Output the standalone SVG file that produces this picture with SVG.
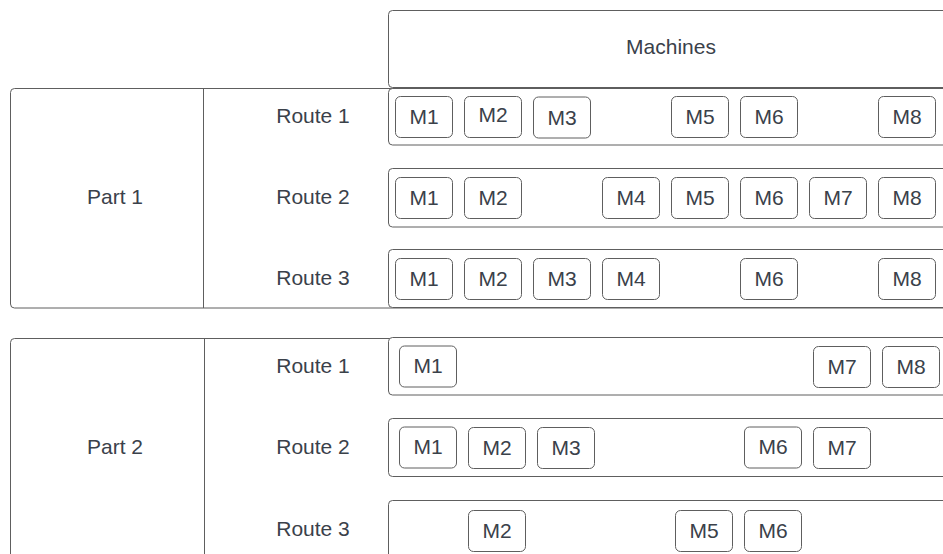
<svg xmlns="http://www.w3.org/2000/svg" width="943" height="554" viewBox="0 0 943 554">
<style>
.frame{fill:none;stroke:#5e5e5e;stroke-width:1}
.row{fill:#ffffff;stroke:#5e5e5e;stroke-width:1}
.m{fill:#ffffff;stroke:#5e5e5e;stroke-width:1}
.t{font-family:"Liberation Sans",Arial,sans-serif;font-size:21px;fill:#3a414a;text-anchor:middle}
</style>
<rect width="943" height="554" fill="#ffffff"/>
<g id="machines-header">
<rect class="row" x="388.5" y="10.5" width="600" height="77" rx="4"/>
<text class="t" x="671" y="53.5">Machines</text>
</g>
<g id="part1">
<rect class="frame" x="10.5" y="88.5" width="1000" height="219.5" rx="4"/>
<line class="frame" x1="203.5" y1="88.5" x2="203.5" y2="308"/>
<text class="t" x="115" y="203.5">Part 1</text>
<text class="t" x="313" y="122.5">Route 1</text>
<text class="t" x="313" y="203.5">Route 2</text>
<text class="t" x="313" y="284.5">Route 3</text>
</g>
<g id="p1r1">
<rect class="row" x="388.5" y="88.5" width="600" height="56.5" rx="4"/>
<rect class="m" x="395.5" y="96.5" width="57" height="41" rx="5"/><text class="t" x="424" y="124">M1</text>
<rect class="m" x="464.5" y="96.5" width="57" height="41" rx="5"/><text class="t" x="493" y="122">M2</text>
<rect class="m" x="533.5" y="97" width="57" height="41" rx="5"/><text class="t" x="562" y="125">M3</text>
<rect class="m" x="671.5" y="96.5" width="57" height="41" rx="5"/><text class="t" x="700" y="124">M5</text>
<rect class="m" x="740.5" y="96.5" width="57" height="41" rx="5"/><text class="t" x="769" y="124">M6</text>
<rect class="m" x="878.5" y="96.5" width="57" height="41" rx="5"/><text class="t" x="907" y="124">M8</text>
</g>
<g id="p1r2">
<rect class="row" x="388.5" y="168.5" width="600" height="58.5" rx="4"/>
<rect class="m" x="395.5" y="177.5" width="57" height="41" rx="5"/><text class="t" x="424" y="205">M1</text>
<rect class="m" x="464.5" y="177.5" width="57" height="41" rx="5"/><text class="t" x="493" y="205">M2</text>
<rect class="m" x="602.5" y="177.5" width="57" height="41" rx="5"/><text class="t" x="631" y="205">M4</text>
<rect class="m" x="671.5" y="177.5" width="57" height="41" rx="5"/><text class="t" x="700" y="205">M5</text>
<rect class="m" x="740.5" y="177.5" width="57" height="41" rx="5"/><text class="t" x="769" y="205">M6</text>
<rect class="m" x="809.5" y="177.5" width="57" height="41" rx="5"/><text class="t" x="838" y="205">M7</text>
<rect class="m" x="878.5" y="177.5" width="57" height="41" rx="5"/><text class="t" x="907" y="205">M8</text>
</g>
<g id="p1r3">
<rect class="row" x="388.5" y="249.5" width="600" height="58" rx="4"/>
<rect class="m" x="395.5" y="258.5" width="57" height="41" rx="5"/><text class="t" x="424" y="286">M1</text>
<rect class="m" x="464.5" y="258.5" width="57" height="41" rx="5"/><text class="t" x="493" y="286">M2</text>
<rect class="m" x="533.5" y="258.5" width="57" height="41" rx="5"/><text class="t" x="562" y="286">M3</text>
<rect class="m" x="602.5" y="258.5" width="57" height="41" rx="5"/><text class="t" x="631" y="286">M4</text>
<rect class="m" x="740.5" y="258.5" width="57" height="41" rx="5"/><text class="t" x="769" y="286">M6</text>
<rect class="m" x="878.5" y="258.5" width="57" height="41" rx="5"/><text class="t" x="907" y="286">M8</text>
</g>
<g id="part2">
<rect class="frame" x="10.5" y="338.5" width="1000" height="300" rx="4"/>
<line class="frame" x1="204.5" y1="338.5" x2="204.5" y2="554"/>
<text class="t" x="115" y="453.5">Part 2</text>
<text class="t" x="313" y="372.5">Route 1</text>
<text class="t" x="313" y="453.5">Route 2</text>
<text class="t" x="313" y="535.5">Route 3</text>
</g>
<g id="p2r1">
<rect class="row" x="388.5" y="337.5" width="600" height="57.5" rx="4"/>
<rect class="m" x="399.5" y="346" width="57" height="41" rx="5"/><text class="t" x="428" y="373">M1</text>
<rect class="m" x="813.5" y="346.5" width="57" height="41" rx="5"/><text class="t" x="842" y="374">M7</text>
<rect class="m" x="882.5" y="346.5" width="57" height="41" rx="5"/><text class="t" x="911" y="374">M8</text>
</g>
<g id="p2r2">
<rect class="row" x="388.5" y="418.5" width="600" height="58" rx="4"/>
<rect class="m" x="399.5" y="427" width="57" height="41" rx="5"/><text class="t" x="428" y="454">M1</text>
<rect class="m" x="468.5" y="427.5" width="57" height="41" rx="5"/><text class="t" x="497" y="455">M2</text>
<rect class="m" x="537.5" y="427.5" width="57" height="41" rx="5"/><text class="t" x="566" y="455">M3</text>
<rect class="m" x="744.5" y="427" width="57" height="41" rx="5"/><text class="t" x="773" y="454">M6</text>
<rect class="m" x="813.5" y="427.5" width="57" height="41" rx="5"/><text class="t" x="842" y="455">M7</text>
</g>
<g id="p2r3">
<rect class="row" x="388.5" y="500.5" width="600" height="100" rx="4"/>
<rect class="m" x="468.5" y="510.5" width="57" height="41" rx="5"/><text class="t" x="497" y="538">M2</text>
<rect class="m" x="675.5" y="510.5" width="57" height="41" rx="5"/><text class="t" x="704" y="538">M5</text>
<rect class="m" x="744.5" y="510.5" width="57" height="41" rx="5"/><text class="t" x="773" y="538">M6</text>
</g>
<g id="connectors"></g>
</svg>
